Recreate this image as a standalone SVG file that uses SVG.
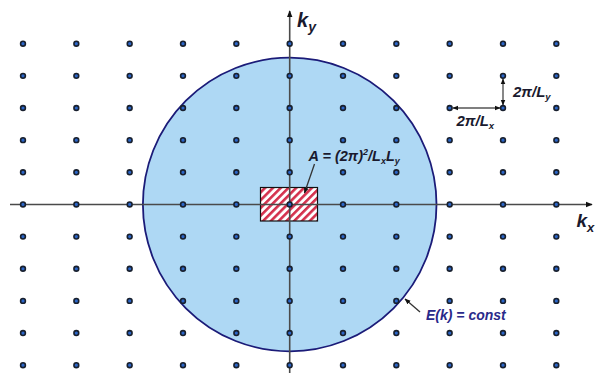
<svg xmlns="http://www.w3.org/2000/svg" xmlns:xlink="http://www.w3.org/1999/xlink" width="596" height="373" viewBox="0 0 596 373">
<style>
.axis{stroke:#4a4a4a;stroke-width:1.6;fill:none}
.lead{stroke:#333;stroke-width:1.3;fill:none}
.dim{stroke:#555;stroke-width:1.4;fill:none}
.lbl{font-family:"Liberation Sans",Arial,sans-serif;font-weight:bold;font-style:italic;fill:#1a1a2e}
.blue{fill:#2a2a8a}
</style>
<defs>
<marker id="ah" viewBox="0 0 10 10" refX="9" refY="5" markerWidth="7" markerHeight="7" orient="auto-start-reverse" markerUnits="userSpaceOnUse">
<path d="M0,1 L10,5 L0,9 Z" fill="#111"/>
</marker>
<marker id="ahs" viewBox="0 0 10 10" refX="9" refY="5" markerWidth="6" markerHeight="6" orient="auto-start-reverse" markerUnits="userSpaceOnUse">
<path d="M0,1 L10,5 L0,9 Z" fill="#111"/>
</marker>
<pattern id="hatch" patternUnits="userSpaceOnUse" width="5.5" height="5.5" patternTransform="rotate(45)">
<rect width="5.5" height="5.5" fill="#fff"/>
<rect width="2.6" height="5.5" fill="#d4304c"/>
</pattern>
<circle id="d" r="2.4" fill="#2c66c8" stroke="#18202e" stroke-width="1.6"/>
</defs>

<g id="energy-surface">
<circle cx="289.7" cy="204.5" r="146.8" fill="#aed8f4" stroke="#1b1b78" stroke-width="1.8"/>
</g>

<g id="cell">
<rect x="260.5" y="187.5" width="57" height="33.5" fill="url(#hatch)" stroke="#111" stroke-width="1.2"/>
</g>

<g id="axes">
<line class="axis" x1="10" y1="204.5" x2="592" y2="204.5" marker-end="url(#ah)"/>
<line class="axis" x1="289.7" y1="373" x2="289.7" y2="11" marker-end="url(#ah)"/>
</g>

<g id="lattice">
<g id="row0"><use href="#d" x="23" y="43.7"/><use href="#d" x="76.33" y="43.7"/><use href="#d" x="129.67" y="43.7"/><use href="#d" x="183" y="43.7"/><use href="#d" x="236.33" y="43.7"/><use href="#d" x="289.67" y="43.7"/><use href="#d" x="343" y="43.7"/><use href="#d" x="396.33" y="43.7"/><use href="#d" x="449.67" y="43.7"/><use href="#d" x="503" y="43.7"/><use href="#d" x="556.33" y="43.7"/></g>
<use href="#row0" y="32.15"/>
<use href="#row0" y="64.3"/>
<use href="#row0" y="96.45"/>
<use href="#row0" y="128.6"/>
<use href="#row0" y="160.75"/>
<use href="#row0" y="192.9"/>
<use href="#row0" y="225.05"/>
<use href="#row0" y="257.2"/>
<use href="#row0" y="289.35"/>
<use href="#row0" y="321.5"/>
</g>

<g id="connectors">
<line class="lead" x1="314.5" y1="164" x2="304.5" y2="193" marker-end="url(#ahs)"/>
<line class="lead" x1="420" y1="312" x2="405" y2="299" marker-end="url(#ahs)"/>
<line class="dim" x1="503" y1="79" x2="503" y2="105" marker-start="url(#ahs)" marker-end="url(#ahs)"/>
<line class="dim" x1="453" y1="108" x2="500" y2="108" marker-start="url(#ahs)" marker-end="url(#ahs)"/>
</g>

<g id="label-ky">
<text class="lbl" x="297" y="27" font-size="20">k<tspan font-size="14" dy="5">y</tspan></text>
</g>
<g id="label-kx">
<text class="lbl" x="576.5" y="227" font-size="19">k<tspan font-size="13" dy="5">x</tspan></text>
</g>
<g id="label-area">
<text class="lbl" x="308.5" y="161" font-size="14.5">A = (2π)<tspan font-size="9" dy="-6">2</tspan><tspan dy="6">/L</tspan><tspan font-size="9" dy="3">x</tspan><tspan dy="-3">L</tspan><tspan font-size="9" dy="3">y</tspan></text>
</g>
<g id="label-dy">
<text class="lbl" x="513" y="97" font-size="15">2π/L<tspan font-size="9.5" dy="3">y</tspan></text>
</g>
<g id="label-dx">
<text class="lbl" x="456.5" y="126" font-size="15">2π/L<tspan font-size="9.5" dy="3">x</tspan></text>
</g>
<g id="label-energy">
<text class="lbl blue" x="426" y="320" font-size="14">E(k) = const</text>
</g>
</svg>
